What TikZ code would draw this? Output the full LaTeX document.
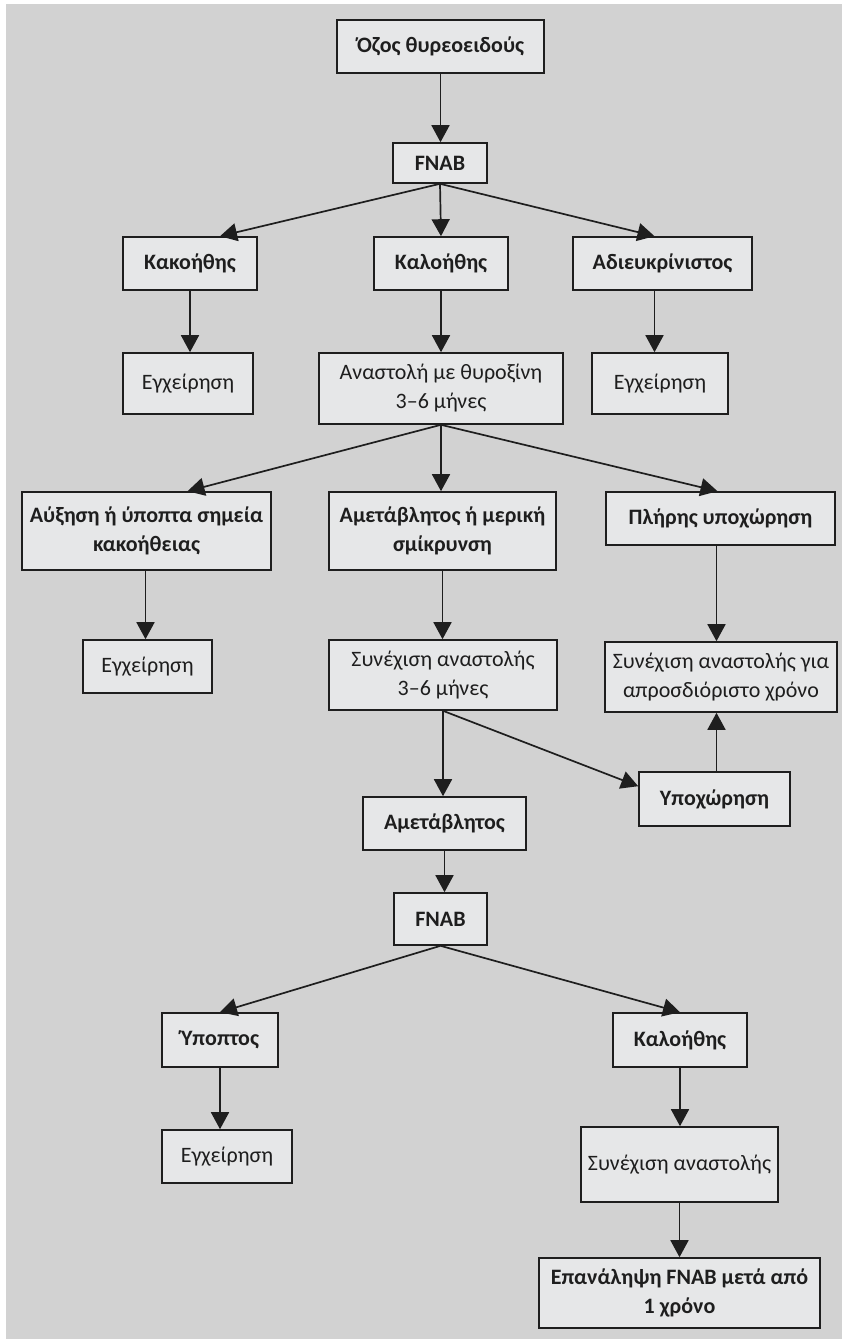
\documentclass[tikz,border=0pt]{standalone}
\usepackage{fontspec}
\setmainfont{Carlito}
\usetikzlibrary{arrows.meta,positioning,calc}
\definecolor{bggray}{HTML}{D2D2D2}
\definecolor{boxfill}{HTML}{E6E7E8}
\definecolor{ink}{HTML}{1E1E1E}
\tikzset{
  box/.style={draw=ink, line width=1.6pt, fill=boxfill, inner sep=0pt, align=center,
    font=\fontsize{22}{29}\selectfont, text=ink},
  bbox/.style={box, font=\fontsize{22}{29}\selectfont\bfseries},
  arr/.style={draw=ink, line width=1.7pt, -{Triangle[length=17pt,width=18pt]}},
}
\newcommand{\bx}[7]{% style, name, x1, y1, x2, y2, text
  \node[#1, minimum width={(#5-#3)*1pt}, minimum height={(#6-#4)*1pt}] (#2) at ({(#3+#5)/2},{(#4+#6)/2}) {#7};}
\begin{document}
\begin{tikzpicture}[x=1pt,y=-1pt]
\useasboundingbox (0,0) rectangle (842,1339);
\fill[white] (0,0) rectangle (842,1339);
\fill[bggray] (6,4) rectangle (842,1339);
% nodes
\bx{bbox}{oz}{337}{20}{544}{73}{Όζος θυρεοειδούς}
\bx{bbox}{fnaba}{393}{143}{487}{183}{FNAB}
\bx{bbox}{kak}{123}{237}{257}{290}{Κακοήθης}
\bx{bbox}{kal}{374}{237}{508}{290}{Καλοήθης}
\bx{bbox}{adi}{573}{237}{752}{290}{Αδιευκρίνιστος}
\bx{box}{egxa}{123}{353}{253}{414}{Εγχείρηση}
\bx{box}{anast}{319}{353}{563}{424}{Αναστολή με θυροξίνη\\3–6 μήνες}
\bx{box}{egxb}{592}{353}{728}{414}{Εγχείρηση}
\bx{bbox}{aux}{22}{492}{271}{570}{Αύξηση ή ύποπτα σημεία\\κακοήθειας}
\bx{bbox}{ametm}{329}{492}{556}{570}{Αμετάβλητος ή μερική\\σμίκρυνση}
\bx{bbox}{pli}{606}{492}{835}{545}{Πλήρης υποχώρηση}
\bx{box}{egxc}{83}{640}{212}{693}{Εγχείρηση}
\bx{box}{syna}{329}{640}{557}{710}{Συνέχιση αναστολής\\3–6 μήνες}
\bx{box}{synapr}{605}{642}{837}{712}{Συνέχιση αναστολής για\\απροσδιόριστο χρόνο}
\bx{bbox}{ypox}{639}{772}{790}{826}{Υποχώρηση}
\bx{bbox}{amet}{363}{797}{526}{850}{Αμετάβλητος}
\bx{bbox}{fnabb}{394}{893}{487}{945}{FNAB}
\bx{bbox}{ypo}{162}{1013}{278}{1067}{Ύποπτος}
\bx{bbox}{kalb}{613}{1013}{747}{1067}{Καλοήθης}
\bx{box}{egxd}{162}{1130}{292}{1183}{Εγχείρηση}
\bx{box}{synb}{581}{1127}{778}{1202}{Συνέχιση αναστολής}
\bx{bbox}{epan}{539}{1258}{820}{1328}{Επανάληψη FNAB μετά από\\1 χρόνο}
% connectors
\draw[arr] (oz.south) -- (oz.south |- fnaba.north);
\draw[arr] (fnaba.south) -- ([xshift=30pt]kak.north);
\draw[arr] (fnaba.south) -- (kal.north);
\draw[arr] (fnaba.south) -- ([xshift=-8pt]adi.north);
\draw[arr] (kak.south) -- (kak.south |- egxa.north);
\draw[arr] (kal.south) -- (kal.south |- anast.north);
\draw[arr] ([xshift=-8pt]adi.south) -- ([xshift=-8pt]adi.south |- egxb.north);
\draw[arr] (anast.south) -- ([xshift=41pt]aux.north);
\draw[arr] (anast.south) -- (anast.south |- ametm.north);
\draw[arr] (anast.south) -- ([xshift=-3pt]pli.north);
\draw[arr] ([xshift=-1pt]aux.south) -- ([xshift=-1pt]aux.south |- egxc.north);
\draw[arr] (ametm.south) -- (ametm.south |- syna.north);
\draw[arr] ([xshift=-4pt]pli.south) -- ([xshift=-4pt]pli.south |- synapr.north);
\draw[arr] (syna.south) -- (syna.south |- amet.north);
\draw[arr] (syna.south) -- ([yshift=-15pt]ypox.north west);
\draw[arr] ([xshift=2pt]ypox.north) -- ([xshift=2pt]ypox.north |- synapr.south);
\draw[arr] (amet.south) -- (amet.south |- fnabb.north);
\draw[arr] (fnabb.south) -- (ypo.north);
\draw[arr] (fnabb.south) -- (kalb.north);
\draw[arr] (ypo.south) -- (ypo.south |- egxd.north);
\draw[arr] (kalb.south) -- (kalb.south |- synb.north);
\draw[arr] (synb.south) -- (synb.south |- epan.north);
\end{tikzpicture}
\end{document}
